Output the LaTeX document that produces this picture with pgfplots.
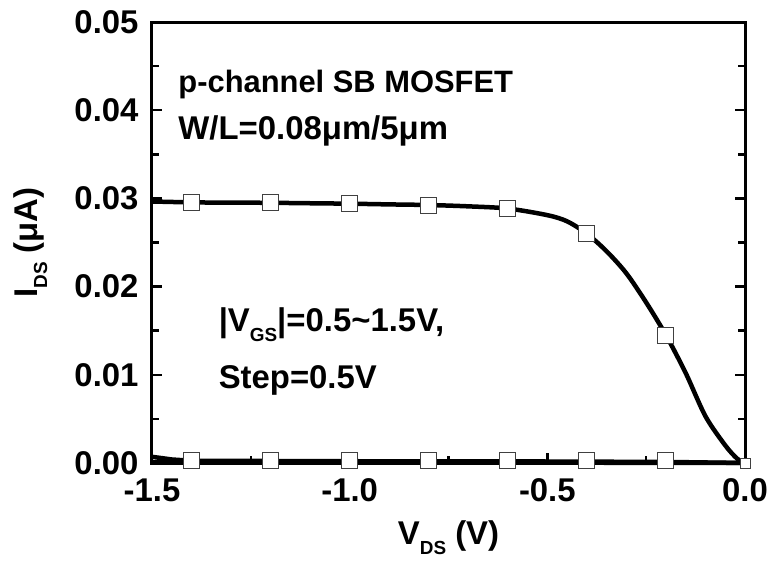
\documentclass[border=0pt]{standalone}
\usepackage{fontspec}
\setmainfont{Liberation Sans}
\usepackage{pgfplots}
\pgfplotsset{compat=1.18}

\newcommand{\fs}{\fontsize{31}{36}\selectfont\bfseries}
\newcommand{\fb}{\fontsize{33}{38}\selectfont\bfseries}
\newcommand{\ft}{\fontsize{33}{38}\selectfont\bfseries}
\newcommand{\sub}[1]{\raisebox{-0.3em}{\fontsize{19}{20}\selectfont\bfseries #1}}

\begin{document}
\begin{tikzpicture}
\useasboundingbox (-152bp,-103bp) rectangle (621bp,463bp);
\begin{axis}[
  at={(0,0)}, anchor=south west,
  scale only axis,
  width=593bp, height=441bp,
  xmin=-1.5, xmax=0, ymin=0, ymax=0.05,
  clip=false,
  axis line style={line width=3bp},
  xtick={-1.5,-1,-0.5,0},
  minor xtick={-1.25,-0.75,-0.25},
  ytick={0,0.01,0.02,0.03,0.04,0.05},
  minor ytick={0.005,0.015,0.025,0.035,0.045},
  tick align=inside,
  xtick pos=left,
  major tick length=10bp, minor tick length=7bp,
  every tick/.style={line width=2.5bp, black},
  scaled y ticks=false,
  tick label style={font=\ft},
  /pgf/number format/assume math mode=true,
  xticklabel style={yshift=-12bp, /pgf/number format/.cd, fixed, fixed zerofill, precision=1},
  yticklabel style={xshift=-10bp, /pgf/number format/.cd, fixed, fixed zerofill, precision=2},
  xlabel={V\sub{DS} (V)},
  ylabel={I\sub{DS} (μA)},
  label style={font=\ft},
  xlabel style={at={(axis description cs:0.5,-0.17)}, anchor=center},
  ylabel style={at={(axis description cs:-0.205,0.5)}, anchor=center},
]
% |VGS| = 1.5 V
\addplot[black, line width=4.5bp, smooth] coordinates {
  (-1.5,0.02965) (-1.4,0.02955) (-1.3,0.02952) (-1.2,0.0295) (-1.1,0.02945)
  (-1.0,0.0294) (-0.9,0.02932) (-0.8,0.02925) (-0.7,0.0291) (-0.6,0.02885)
  (-0.5,0.0281) (-0.45,0.0274) (-0.4,0.0260) (-0.35,0.0240) (-0.3,0.0215)
  (-0.25,0.0182) (-0.2,0.0145) (-0.15,0.0102) (-0.1,0.0053) (-0.05,0.0020)
  (-0.02,0.0005) (0,0)
};
% |VGS| = 1.0 V
\addplot[black, line width=4.5bp] coordinates {
  (-1.5,0.0007) (-1.45,0.0004) (-1.4,0.00025) (-1.0,0.0002) (-0.5,0.00017)
  (-0.2,0.00012) (0,0)
};
% |VGS| = 0.5 V
\addplot[black, line width=4.5bp] coordinates {
  (-1.5,0.00008) (-1.0,0.00006) (-0.5,0.00004) (0,0)
};
% markers
\addplot[only marks, mark=square*, mark size=8bp,
  mark options={fill=white, draw=black!75, line width=1bp}] coordinates {
  (-1.4,0.02955) (-1.2,0.0295) (-1.0,0.0294) (-0.8,0.02925) (-0.6,0.02885)
  (-0.4,0.0260) (-0.2,0.0145)
  (-1.4,0.0003) (-1.2,0.0003) (-1.0,0.0003) (-0.8,0.0003) (-0.6,0.0003)
  (-0.4,0.0003) (-0.2,0.0003)
};
\addplot[only marks, mark=square*, mark size=5bp,
  mark options={fill=white, draw=black!75, line width=1bp}] coordinates {(0,0)};
\node[anchor=west, font=\fs] at (axis cs:-1.442,0.0429) {p-channel SB MOSFET};
\node[anchor=west, font=\fb] at (axis cs:-1.442,0.0376) {W/L=0.08μm/5μm};
\node[anchor=west, font=\fb] at (axis cs:-1.34,0.0157) {|V\sub{GS}|=0.5\textasciitilde1.5V,};
\node[anchor=west, font=\fb] at (axis cs:-1.34,0.0094) {Step=0.5V};
\end{axis}
\end{tikzpicture}
\end{document}
